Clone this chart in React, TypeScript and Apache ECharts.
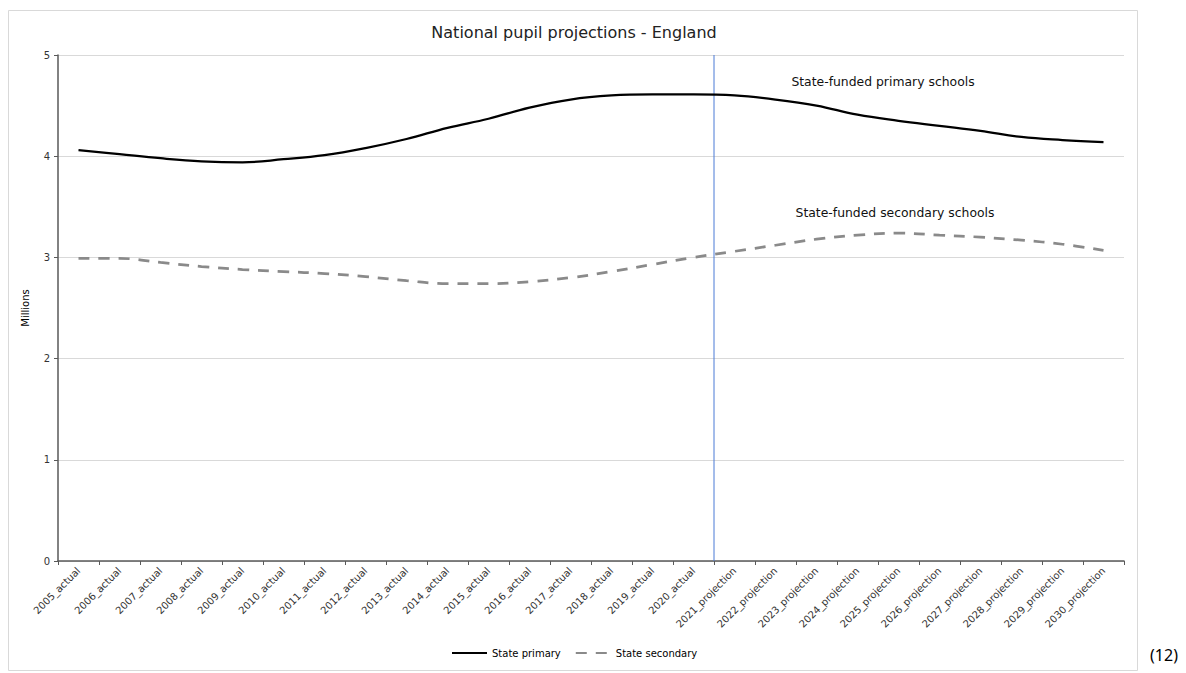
import React, { useEffect, useRef } from "react";
import * as echarts from "echarts";

const years = [
  "2005_actual", "2006_actual", "2007_actual", "2008_actual", "2009_actual", "2010_actual",
  "2011_actual", "2012_actual", "2013_actual", "2014_actual", "2015_actual", "2016_actual",
  "2017_actual", "2018_actual", "2019_actual", "2020_actual", "2021_projection", "2022_projection",
  "2023_projection", "2024_projection", "2025_projection", "2026_projection", "2027_projection",
  "2028_projection", "2029_projection", "2030_projection",
];

const statePrimary = [
  4.06, 4.02, 3.98, 3.95, 3.94, 3.97, 4.01, 4.08, 4.17, 4.28, 4.37, 4.48, 4.56,
  4.60, 4.61, 4.61, 4.60, 4.56, 4.50, 4.41, 4.35, 4.30, 4.25, 4.19, 4.16, 4.14,
];

const stateSecondary = [
  2.99, 2.99, 2.95, 2.91, 2.88, 2.86, 2.84, 2.81, 2.77, 2.74, 2.74, 2.76, 2.80,
  2.86, 2.93, 3.00, 3.06, 3.12, 3.18, 3.22, 3.24, 3.22, 3.20, 3.17, 3.13, 3.07,
];

// boundary between actual and projection (category boundary index)
const projectionStart = 16;

const FONT = "'DejaVu Sans', Verdana, sans-serif";

export default function App() {
  const ref = useRef<HTMLDivElement>(null);
  useEffect(() => {
    if (!ref.current) return;
    const chart = echarts.init(ref.current, null, { renderer: "svg" });
    chart.setOption({
      animation: false,
      backgroundColor: "#fff",
      textStyle: { fontFamily: FONT },
      title: {
        text: "National pupil projections - England",
        left: 569,
        textAlign: "center",
        top: 19,
        textStyle: { fontFamily: FONT, fontSize: 16, fontWeight: "normal", color: "#222" },
      },
      grid: { left: 58, right: 62, top: 55, bottom: 112, containLabel: false },
      legend: {
        data: ["State primary", "State secondary"],
        bottom: 10,
        left: 446,
        itemWidth: 35,
        itemHeight: 10,
        itemGap: 14,
        itemStyle: { opacity: 0 },
        textStyle: { fontFamily: FONT, fontSize: 10, color: "#000" },
      },
      xAxis: [
        {
          type: "category",
          data: years,
          boundaryGap: true,
          axisLine: { lineStyle: { color: "#595959", width: 1.5 } },
          axisTick: { show: true, length: 4, lineStyle: { color: "#595959" } },
          axisLabel: {
            rotate: 45,
            interval: 0,
            fontSize: 10,
            color: "#333",
            fontFamily: FONT,
            margin: 8,
          },
        },
        {
          type: "value",
          min: 0,
          max: years.length,
          show: false,
        },
      ],
      yAxis: {
        type: "value",
        min: 0,
        max: 5,
        interval: 1,
        name: "Millions",
        nameLocation: "middle",
        nameGap: 28,
        nameRotate: 90,
        nameTextStyle: { fontSize: 10, color: "#000", fontFamily: FONT },
        axisLine: { show: true, lineStyle: { color: "#595959", width: 1.5 } },
        axisTick: { show: true, length: 4, lineStyle: { color: "#595959" } },
        axisLabel: { fontSize: 10, color: "#333", fontFamily: FONT, margin: 8 },
        splitLine: { lineStyle: { color: "#d9d9d9", width: 1 } },
      },
      series: [
        {
          name: "State primary",
          type: "line",
          data: statePrimary,
          smooth: 0.4,
          showSymbol: false,
          symbol: "none",
          color: "#000",
          lineStyle: { color: "#000", width: 2.25 },
        },
        {
          name: "State secondary",
          type: "line",
          data: stateSecondary,
          smooth: 0.4,
          showSymbol: false,
          symbol: "none",
          color: "#8a8a8a",
          lineStyle: { color: "#8a8a8a", width: 2.75, type: [11, 9] },
        },
        {
          name: "divider",
          type: "line",
          xAxisIndex: 1,
          data: [
            [projectionStart, 0],
            [projectionStart, 5],
          ],
          showSymbol: false,
          symbol: "none",
          lineStyle: { color: "#4a7bd6", width: 1 },
          silent: true,
          z: 1,
        },
      ],
      graphic: [
        {
          type: "rect",
          shape: { x: 8.5, y: 10.5, width: 1129, height: 660 },
          style: { fill: "none", stroke: "#d9d9d9", lineWidth: 1 },
          silent: true,
          z: -10,
        },
        {
          type: "text",
          x: 883,
          y: 81,
          style: {
            text: "State-funded primary schools",
            fontFamily: FONT,
            fontSize: 12.4,
            fill: "#111",
            align: "center",
            verticalAlign: "middle",
          },
        },
        {
          type: "text",
          x: 895,
          y: 212,
          style: {
            text: "State-funded secondary schools",
            fontFamily: FONT,
            fontSize: 12.4,
            fill: "#111",
            align: "center",
            verticalAlign: "middle",
          },
        },
        {
          type: "text",
          x: 1164,
          y: 655,
          style: {
            text: "(12)",
            fontFamily: "'Noto Sans', sans-serif",
            fontSize: 16,
            fill: "#000",
            align: "center",
            verticalAlign: "middle",
          },
        },
      ],
    });
    return () => chart.dispose();
  }, []);
  return (
    <div
      ref={ref}
      style={{ position: "fixed", left: 0, top: 0, width: 1186, height: 673 }}
    />
  );
}
